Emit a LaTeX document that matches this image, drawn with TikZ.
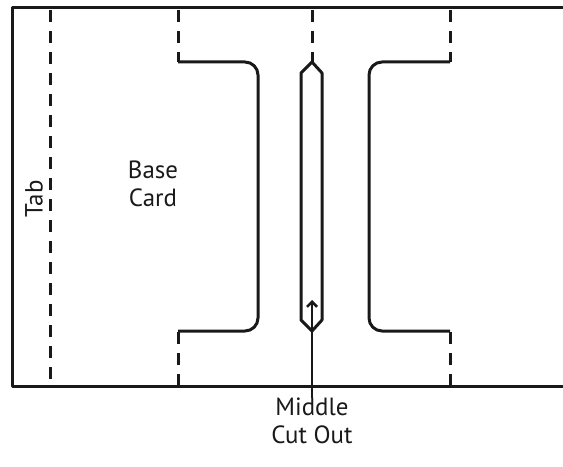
\documentclass[tikz,border=0pt]{standalone}
\usepackage{fontspec}
\setmainfont{PT Sans}
\usetikzlibrary{arrows.meta}
\begin{document}
\begin{tikzpicture}[x=1bp,y=-1bp,
  cutline/.style={line width=3bp,black!90,line join=round},
  foldline/.style={line width=3bp,black!90,dash pattern=on 12bp off 9bp},
  lbl/.style={font=\fontsize{25}{28}\selectfont,align=center,inner sep=0pt,text=black!90}]
\useasboundingbox (0,0) rectangle (563,467);
% outer card
\draw[cutline] (563,8) -- (12,8) -- (12,386) -- (563,386);
% fold lines
\draw[foldline] (50,10) -- (50,386);
\draw[foldline] (178,10) -- (178,62);
\draw[foldline] (178,386) -- (178,331);
\draw[foldline] (312,10) -- (312,62);
\draw[foldline] (450,10) -- (450,62);
\draw[foldline] (450,386) -- (450,331);
% left bracket
\draw[cutline,rounded corners=13bp] (178,62) -- (258,62) -- (258,331) -- (178,331);
% right bracket
\draw[cutline,rounded corners=13bp] (450,62) -- (369,62) -- (369,331) -- (450,331);
% slot
\draw[cutline] (312,62) -- (322,73) -- (322,320) -- (312,331) -- (301,320) -- (301,73) -- cycle;
% labels
\node[lbl,rotate=90] (tab) at (34,199) {Tab};
\node[lbl] (base) at (153,184) {Base\\Card};
\node[lbl,anchor=north] (mid) at (312,398) {Middle\\Cut Out};
\coordinate (tip) at (312,300);
\draw[line width=2.6bp,black!90,-{Straight Barb[length=5bp,width=10bp]}] (mid.north) -- (tip);
\end{tikzpicture}
\end{document}
